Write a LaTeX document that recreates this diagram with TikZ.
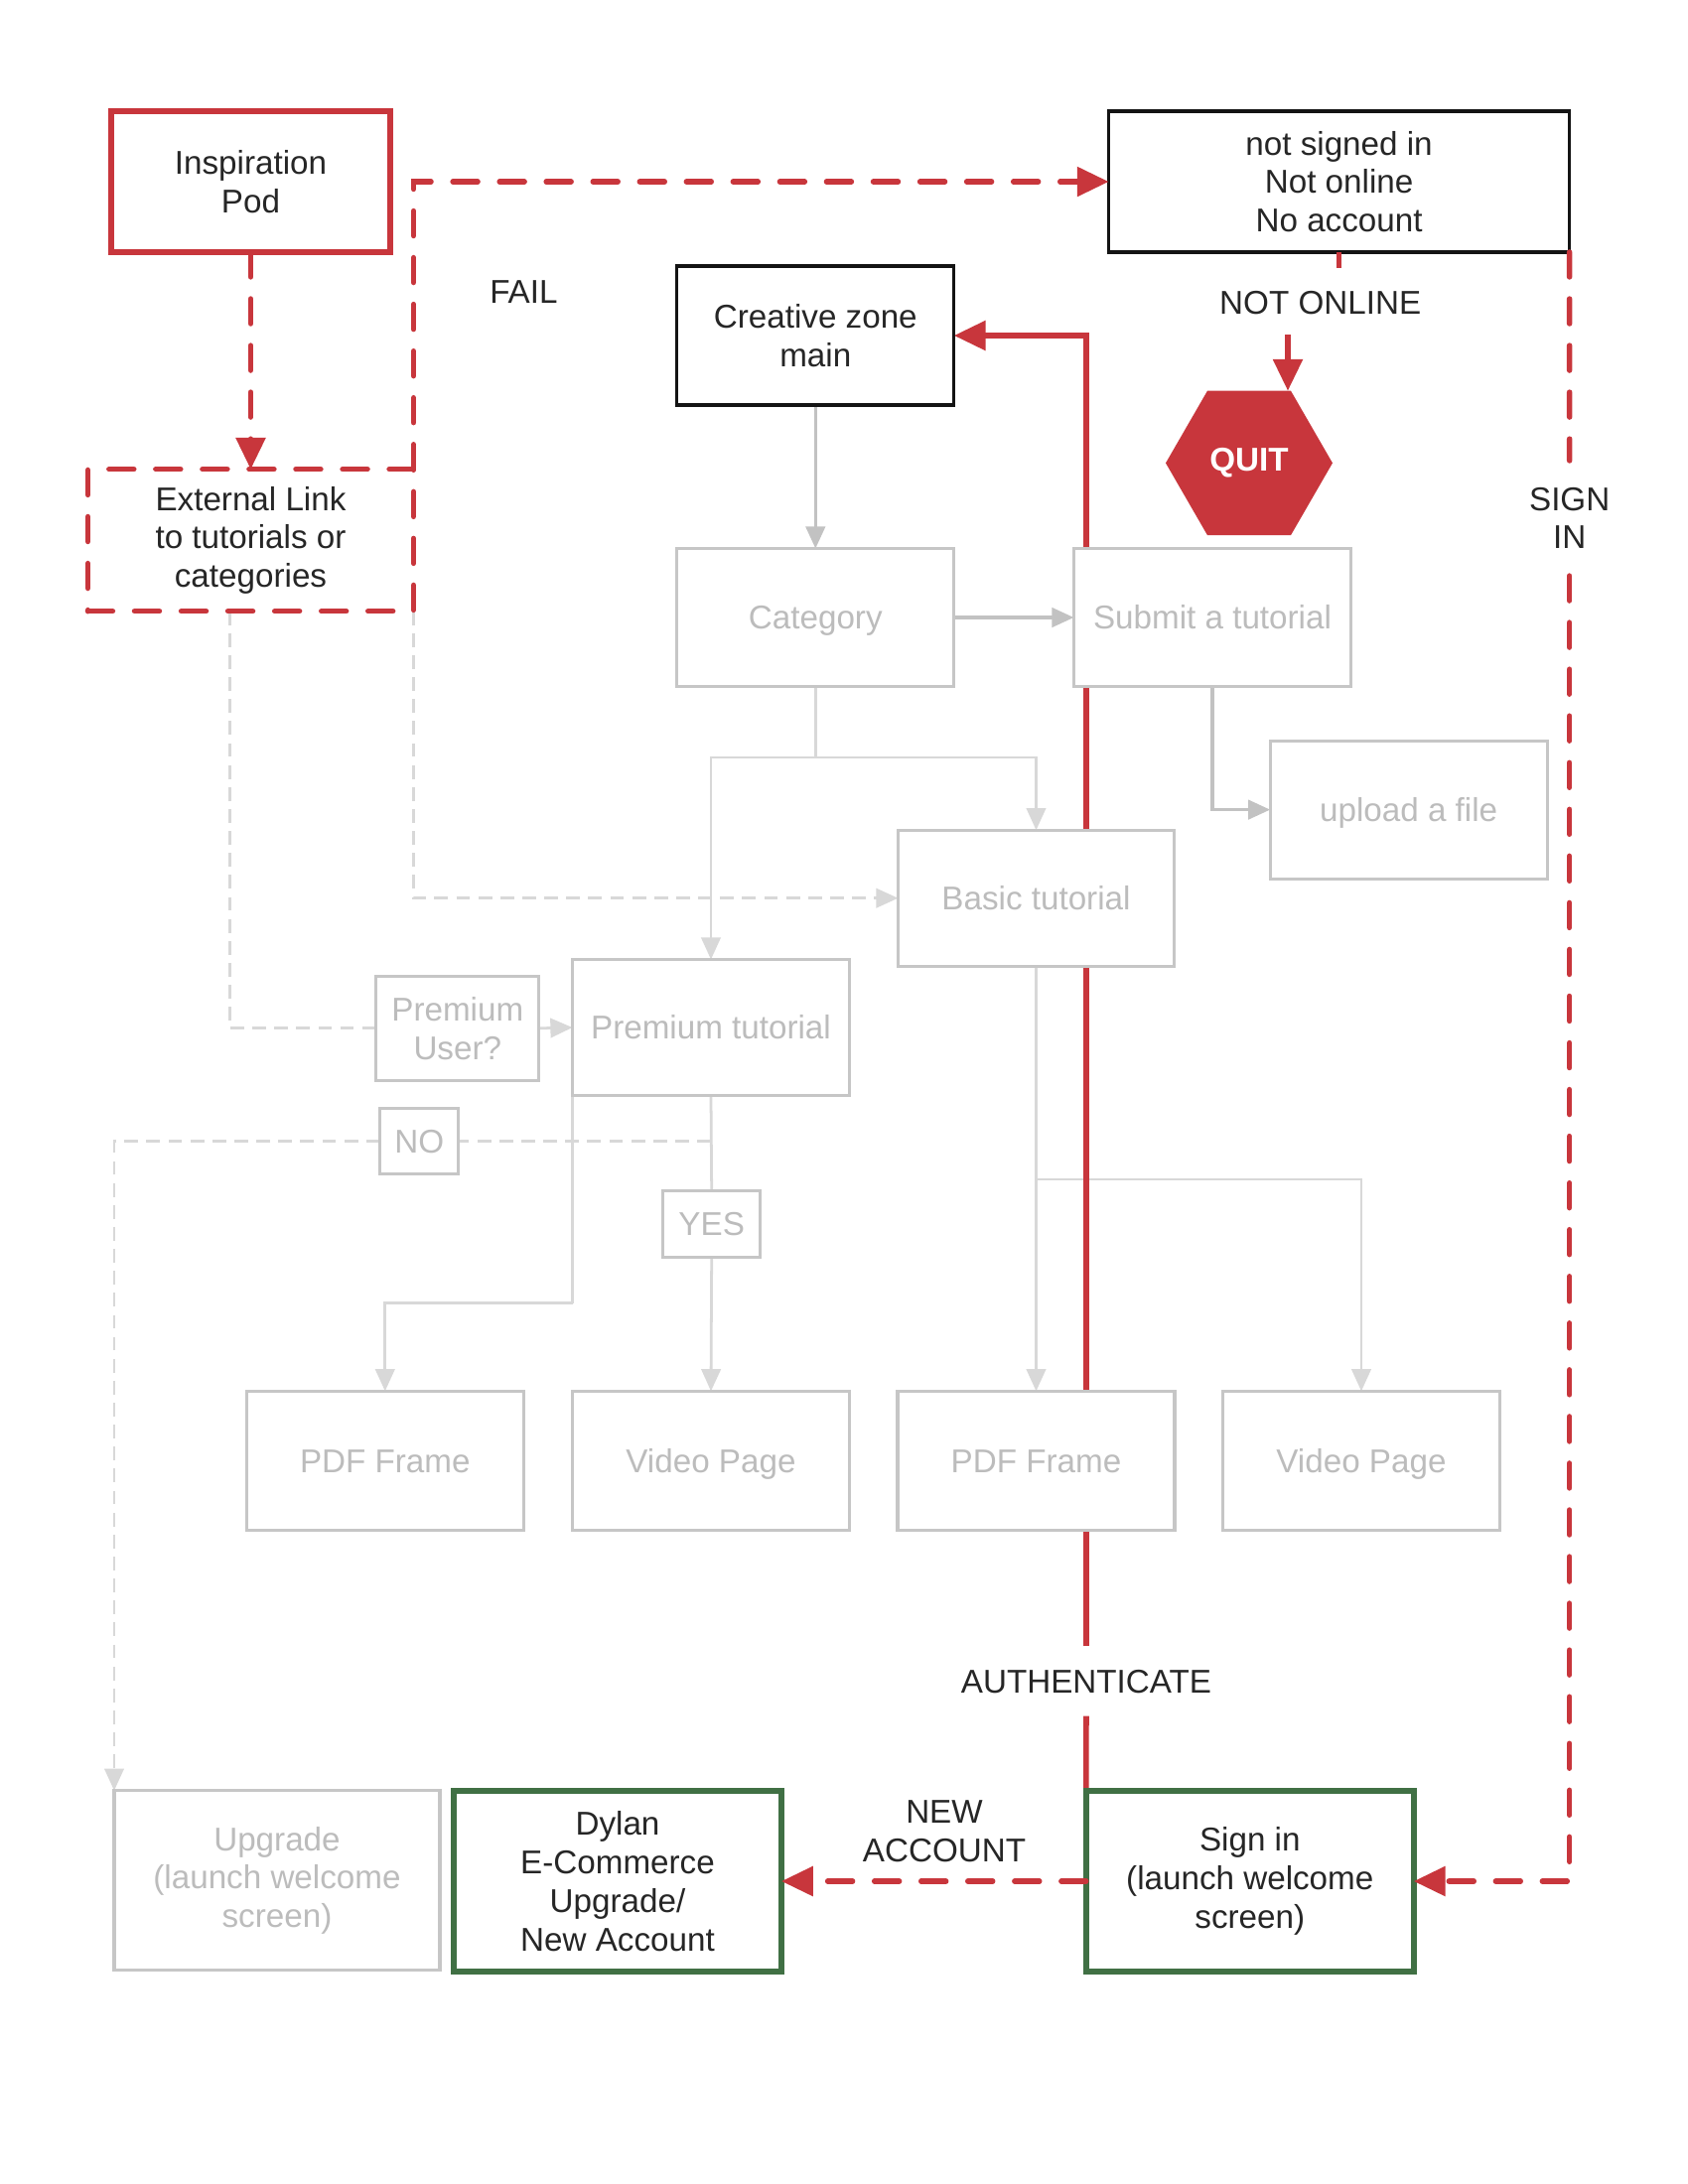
\documentclass[tikz,border=0pt]{standalone}
\usepackage{fontspec}
\setmainfont{Liberation Sans}
\usetikzlibrary{arrows.meta,shapes.geometric}
\pgfdeclarelayer{paper}
\pgfdeclarelayer{back}
\pgfsetlayers{paper,back,main}
\newlength\pxu
\setlength\pxu{0.36135pt}
\definecolor{rd}{RGB}{200,54,60}
\definecolor{grn}{RGB}{64,112,68}
\definecolor{ink}{RGB}{38,38,38}
\definecolor{gborder}{RGB}{198,198,198}
\definecolor{gtext}{RGB}{188,188,188}
\definecolor{glight}{RGB}{216,216,216}
\definecolor{gdark}{RGB}{194,194,194}
\begin{document}
\begin{tikzpicture}[x=0.36135pt,y=-0.36135pt,
  font=\fontsize{12}{14}\selectfont,
  basebox/.style={rectangle, minimum width=279\pxu, minimum height=139\pxu, align=center, inner sep=2pt, outer sep=0pt, fill=white},
  gbox/.style={basebox, draw=gborder, line width=1.1pt, text=gtext},
  bbox/.style={basebox, draw=black!92, line width=1.2pt, text=ink},
  podbox/.style={basebox, draw=rd, line width=1.9pt, text=ink},
  extbox/.style={basebox, draw=rd, line width=2pt, text=ink, dash pattern=on 9pt off 8pt, line cap=round},
  gnbox/.style={basebox, draw=grn, line width=2pt, text=ink},
  one/.style={text height=8.6pt, text depth=0pt},
  lbl/.style={text=ink, inner xsep=2pt, align=center},
  redline/.style={draw=rd, line width=2pt},
  reddash/.style={draw=rd, line width=2pt, dash pattern=on 9pt off 8pt, line cap=round},
  ra/.style={-{Triangle[length=11.5pt,width=10.5pt]}},
  ga/.style={-{Triangle[length=8pt,width=7pt]}},
  gline/.style={draw=glight, line width=1pt},
  gdline/.style={draw=gdark, line width=1.2pt},
  gdash/.style={draw=glight, line width=1pt, dash pattern=on 5pt off 3pt}
]
\begin{pgfonlayer}{paper}
\fill[white] (0,0) rectangle (1700,2200);
\end{pgfonlayer}
\useasboundingbox (0,0) rectangle (1700,2200);

% ---------------- nodes ----------------
\node[podbox, minimum width=281\pxu, minimum height=142\pxu] (pod) at (252.5,183) {Inspiration\\Pod};
\node[bbox, minimum width=464\pxu, minimum height=142\pxu] (nsi) at (1348.6,183) {not signed in\\Not online\\No account};
\node[bbox, minimum height=140\pxu] (czm) at (821.3,338) {Creative zone\\main};
\node[extbox, minimum width=328\pxu, minimum height=143\pxu] (ext) at (252.5,544.2) {External Link\\to tutorials or\\categories};
\node[regular polygon, regular polygon sides=6, minimum size=168\pxu, inner sep=0pt, outer sep=0pt, fill=rd, text=white, font=\fontsize{12}{14}\selectfont\bfseries] (quit) at (1258,466.4) {QUIT};

\node[gbox, one] (cat) at (821.3,622) {Category};
\node[gbox, one] (sub) at (1221,622) {Submit a tutorial};
\node[gbox, one] (upl) at (1418.7,815.6) {upload a file};
\node[gbox, one, minimum width=278\pxu, minimum height=137\pxu] (bas) at (1043.5,904.7) {Basic tutorial};
\node[gbox, minimum width=164\pxu, minimum height=105\pxu] (pu) at (460.8,1035.8) {Premium\\User?};
\node[gbox, one, minimum height=137\pxu] (pt) at (716,1035) {Premium tutorial};
\node[gbox, one, minimum width=79\pxu, minimum height=66\pxu] (no) at (422.2,1149.4) {NO};
\node[gbox, one, minimum width=98\pxu, minimum height=67\pxu] (yes) at (716.7,1233) {YES};
\node[gbox, one, minimum height=140\pxu] (pdfa) at (387.8,1471.3) {PDF Frame};
\node[gbox, one, minimum height=140\pxu] (vida) at (716,1471.3) {Video Page};
\node[gbox, one, minimum height=140\pxu] (pdfb) at (1043.5,1471.3) {PDF Frame};
\node[gbox, one, minimum height=140\pxu] (vidb) at (1371,1471.3) {Video Page};
\node[gbox, minimum width=328\pxu, minimum height=181\pxu] (upg) at (279,1894.2) {Upgrade\\(launch welcome\\screen)};
\node[gnbox, minimum width=330\pxu, minimum height=182\pxu] (dyl) at (622,1895) {Dylan\\E-Commerce\\Upgrade/\\New Account};
\node[gnbox, minimum width=330\pxu, minimum height=182\pxu] (sgn) at (1258.8,1895) {Sign in\\(launch welcome\\screen)};

% ---------------- labels ----------------
\node[lbl] (fail) at (527.4,294.5) {FAIL};
\node[lbl, text height=9pt, text depth=0pt, inner ysep=7.4pt] (nol) at (1329.7,303.8) {NOT ONLINE};
\node[lbl, inner ysep=9.6pt] (signl) at (1580.7,522) {SIGN\\IN};
\node[lbl, text height=9pt, text depth=0pt, inner ysep=8pt] (auth) at (1094,1693.5) {AUTHENTICATE};
\node[lbl] (newacc) at (951,1844.4) {NEW\\ACCOUNT};

% ---------------- helper coordinates ----------------
\coordinate (extA) at (231.4,615.7);
\coordinate (cs) at (821.3,763);
\coordinate (pb) at (576.5,1312.8);
\coordinate (bs) at (1043.5,1188);
\coordinate (nostart) at (716,1149.4);
\coordinate (qtop) at (1297,303.8);

% ---------------- connectors behind boxes ----------------
\begin{pgfonlayer}{back}
  % gray flow
  \draw[gdline, ga] (czm.south) -- (cat.north);
  \draw[gdline, ga] (cat.east) -- (sub.west);
  \draw[gdline, ga] (sub.south) |- (upl.west);
  \draw[gline] (cat.south) -- (cs);
  \draw[gline, ga] (cs) -| (pt.north);
  \draw[gline, ga] (cs) -| (bas.north);
  \draw[gline, ga] (pu.east) -- (pt.west);
  \draw[gline] (pt.south) -- (yes.north);
  \draw[gline, ga] (yes.south) -- (vida.north);
  \draw[gline] (pt.south west) -- (pb);
  \draw[gline, ga] (pb) -| (pdfa.north);
  \draw[gline, ga] (bas.south) -- (pdfb.north);
  \draw[gline, ga] (bs) -| (vidb.north);
  % gray dashed
  \draw[gdash] (extA) |- (pu.west);
  \draw[gdash, ga] (ext.south east) |- (bas.west);
  \draw[gdash] (nostart) -- (no.east);
  \draw[gdash, ga] (no.west) -| (upg.north west);
  % red authenticate path (hidden under boxes)
  \draw[redline] (sgn.north west) -- (auth.south);
  \draw[redline, ra] (auth.north) |- (czm.east);
\end{pgfonlayer}

% ---------------- red connectors ----------------
\draw[reddash, ra] (pod.south) -- (ext.north);
\draw[reddash, ra] (ext.north east) |- (nsi.west);
\draw[redline] (nsi.south) -- (nsi.south |- nol.north);
\draw[redline, ra] (qtop |- nol.south) -- (qtop |- quit.north);
\draw[reddash] (nsi.south east) -- (signl.north);
\draw[reddash, ra] (signl.south) |- (sgn.east);
\draw[reddash, ra] (sgn.west) -- (dyl.east);
\end{tikzpicture}
\end{document}
